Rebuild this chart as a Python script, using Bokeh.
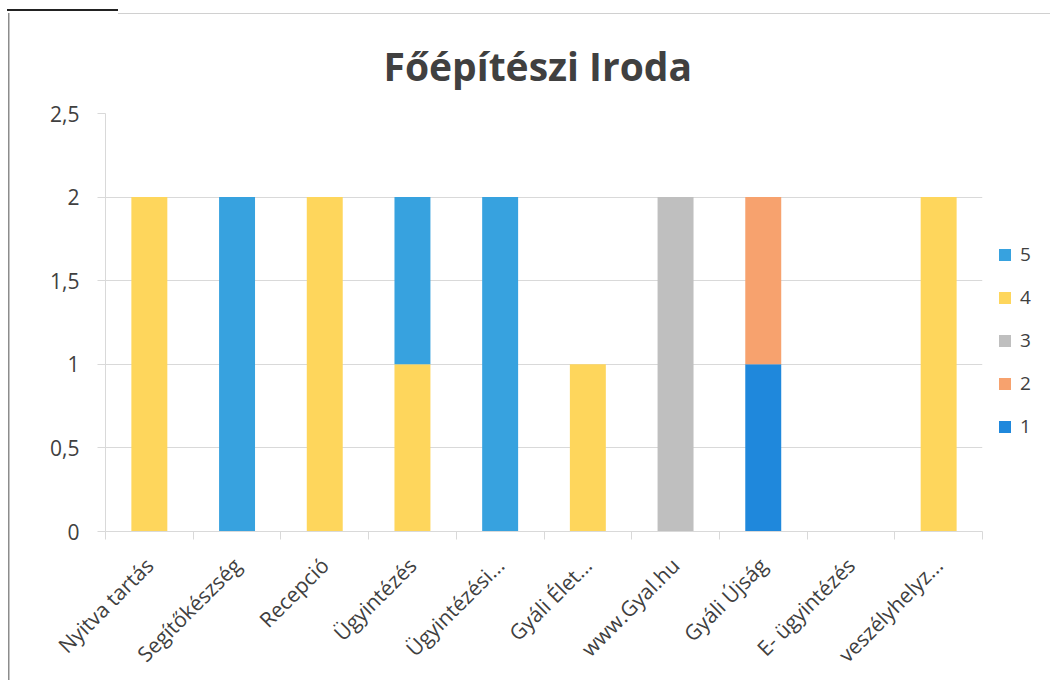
import math
from bokeh.plotting import figure
from bokeh.models import (ColumnDataSource, FixedTicker, CustomJSTickFormatter,
                          Legend, LegendItem, Range1d)
from bokeh.embed import file_html
from bokeh.resources import INLINE

categories = ["Nyitva tartás", "Segítőkészség", "Recepció", "Ügyintézés",
              "Ügyintézési...", "Gyáli Élet...", "www.Gyal.hu", "Gyáli Újság",
              "E- ügyintézés", "veszélyhelyz..."]
series_names = ["1", "2", "3", "4", "5"]
v1 = [0, 0, 0, 0, 0, 0, 0, 1, 0, 0]
v2 = [0, 0, 0, 0, 0, 0, 0, 1, 0, 0]
v3 = [0, 0, 0, 0, 0, 0, 2, 0, 0, 0]
v4 = [2, 0, 2, 1, 0, 1, 0, 0, 0, 2]
v5 = [0, 2, 0, 1, 2, 0, 0, 0, 0, 0]
colors = ["#1f88dc", "#f7a26e", "#bfbfbf", "#fed65c", "#37a2df"]
y_ticks = [0, 0.5, 1, 1.5, 2, 2.5]

FONT = "Open Sans"
TXT = "#404040"

xpos = [i + 0.5 for i in range(len(categories))]
source = ColumnDataSource(dict(x=xpos, s1=v1, s2=v2, s3=v3, s4=v4, s5=v5))

# thin page-frame lines of the scanned document, drawn as CSS backgrounds
page_lines = {
    "background-image": ("linear-gradient(#8c8c8c,#8c8c8c), "
                         "linear-gradient(#d0d0d0,#d0d0d0), "
                         "linear-gradient(#222222,#222222)"),
    "background-size": "1.5px 668px, 932px 1px, 111px 2px",
    "background-position": "8px 13px, 118px 13px, 7px 9px",
    "background-repeat": "no-repeat",
}

p = figure(frame_width=877, frame_height=418, output_backend="svg", toolbar_location=None,
           x_range=Range1d(0, len(categories)), y_range=Range1d(0, 2.5),
           min_border_left=105, min_border_right=60, min_border_top=113,
           min_border_bottom=142, styles=page_lines)
p.border_fill_color = None
p.background_fill_color = None

renderers = p.vbar_stack(["s1", "s2", "s3", "s4", "s5"], x="x", width=0.41,
                         color=colors, line_color=None, source=source)

# title
p.title.text = "Főépítészi Iroda"
p.title.align = "left"
p.title.offset = 278
p.title.text_font = FONT
p.title.text_font_size = "39px"
p.title.text_font_style = "bold"
p.title.text_color = TXT
p.title.standoff = 44

p.outline_line_color = None
p.xgrid.grid_line_color = None
p.ygrid.grid_line_color = "#d9d9d9"
p.ygrid.ticker = FixedTicker(ticks=y_ticks)

# y axis
p.yaxis.ticker = FixedTicker(ticks=y_ticks)
p.yaxis.formatter = CustomJSTickFormatter(code="return tick.toString().replace('.', ',');")
p.yaxis.axis_line_color = "#d9d9d9"
p.yaxis.major_tick_line_color = "#d9d9d9"
p.yaxis.major_tick_out = 8
p.yaxis.major_tick_in = 0
p.yaxis.minor_tick_line_color = None
p.yaxis.major_label_text_font = FONT
p.yaxis.major_label_text_font_size = "21px"
p.yaxis.major_label_text_color = TXT
p.yaxis.major_label_standoff = 18

# x axis
p.xaxis.ticker = FixedTicker(ticks=xpos, minor_ticks=list(range(len(categories) + 1)))
p.xaxis.major_label_overrides = {x: c for x, c in zip(xpos, categories)}
p.xaxis.major_label_orientation = math.pi / 4
p.xaxis.axis_line_color = "#d9d9d9"
p.xaxis.major_tick_line_color = None
p.xaxis.minor_tick_line_color = "#d9d9d9"
p.xaxis.minor_tick_out = 8
p.xaxis.minor_tick_in = 0
p.xaxis.major_label_text_font = FONT
p.xaxis.major_label_text_font_size = "21px"
p.xaxis.major_label_text_color = TXT
p.xaxis.major_label_standoff = 22

# legend (5 on top)
items = [LegendItem(label=series_names[i], renderers=[renderers[i]]) for i in reversed(range(5))]
legend = Legend(items=items, location=(15, 92), orientation="vertical",
                glyph_width=15, glyph_height=15, label_height=15, spacing=17,
                padding=0, margin=0, border_line_color=None, background_fill_alpha=0,
                label_text_font=FONT, label_text_font_size="19px", label_text_color=TXT,
                label_standoff=8)
p.add_layout(legend, "right")

open("out.html", "w").write(file_html(p, INLINE))
